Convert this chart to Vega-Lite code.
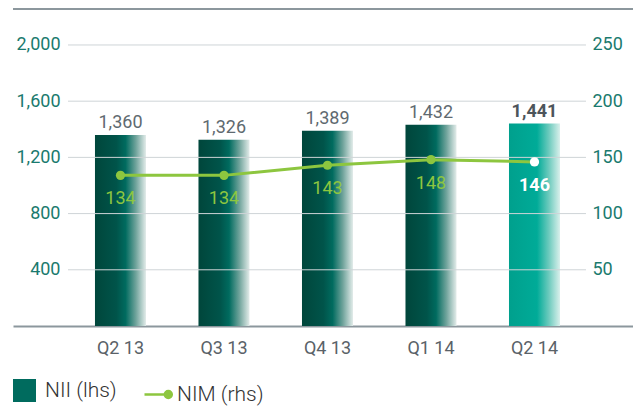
{
  "$schema": "https://vega.github.io/schema/vega-lite/v6.json",
  "width": 620,
  "height": 317,
  "autosize": {"type": "none"},
  "padding": {"left": 13, "top": 9, "right": 0, "bottom": 80},
  "background": "white",
  "config": {
    "view": {"stroke": null},
    "font": "Roboto, sans-serif"
  },
  "datasets": {
    "main": [
      {"q": "Q2 13", "nii": 1360, "nim": 134},
      {"q": "Q3 13", "nii": 1326, "nim": 134},
      {"q": "Q4 13", "nii": 1389, "nim": 143},
      {"q": "Q1 14", "nii": 1432, "nim": 148},
      {"q": "Q2 14", "nii": 1441, "nim": 146}
    ],
    "grid": [{"v": 400}, {"v": 800}, {"v": 1200}, {"v": 1600}, {"v": 2000}],
    "top": [{"v": 2256}]
  },
  "data": {"name": "main"},
  "layer": [
    {
      "layer": [
        {
          "mark": {"type": "bar"},
          "encoding": {
            "x": {
              "field": "q", "type": "nominal", "sort": null,
              "scale": {"domain": ["Q2 13", "Q3 13", "Q4 13", "Q1 14", "Q2 14"], "paddingInner": 0.507, "paddingOuter": 0.7486, "align": 0.529, "round": false},
              "axis": {
                "title": null, "ticks": false, "domain": true, "domainColor": "#8c979d", "domainWidth": 2,
                "labelFontSize": 18, "labelColor": "#5a6268", "labelPadding": 13, "labelAngle": 0
              }
            },
            "y": {
              "field": "nii", "type": "quantitative",
              "scale": {"domain": [0, 2256], "nice": false},
              "axis": {
                "title": null, "values": [400, 800, 1200, 1600, 2000],
                "labelExpr": "format(datum.value, ',')",
                "domain": false, "ticks": false, "grid": false, "labelPadding": -47,
                "labelColor": "#1a7a6e", "labelFontSize": 18
              }
            },
            "fill": {
              "condition": {
                "test": "datum.q === 'Q2 14'",
                "value": {"gradient": "linear", "x1": 0, "y1": 0, "x2": 1, "y2": 0,
                  "stops": [
                    {"offset": 0, "color": "#00a08d"},
                    {"offset": 0.55, "color": "#00ab98"},
                    {"offset": 0.78, "color": "#6ccabd"},
                    {"offset": 1, "color": "#d9f0ec"}
                  ]}
              },
              "value": {"gradient": "linear", "x1": 0, "y1": 0, "x2": 1, "y2": 0,
                "stops": [
                  {"offset": 0, "color": "#00463b"},
                  {"offset": 0.42, "color": "#00544a"},
                  {"offset": 0.6, "color": "#006b5f"},
                  {"offset": 0.8, "color": "#6fa39b"},
                  {"offset": 1, "color": "#e3ecea"}
                ]}
            }
          }
        },
        {
          "data": {"name": "grid"},
          "mark": {"type": "rule", "color": "#cfd4d7", "strokeWidth": 1, "xOffset": -52.5, "x2Offset": 51.5},
          "encoding": {
            "y": {"field": "v", "type": "quantitative"},
            "x": {"datum": "Q2 13", "type": "nominal", "bandPosition": 0.5},
            "x2": {"datum": "Q2 14", "bandPosition": 0.5}
          }
        },
        {
          "data": {"name": "top"},
          "mark": {"type": "rule", "color": "#8c979d", "strokeWidth": 2},
          "encoding": {
            "y": {"field": "v", "type": "quantitative"}
          }
        },
        {
          "transform": [{"filter": "false"}],
          "mark": {"type": "square", "opacity": 1},
          "encoding": {
            "color": {
              "datum": "NII (lhs)",
              "scale": {"domain": ["NII (lhs)"], "range": ["#006b5e"]},
              "legend": {
                "orient": "none", "legendX": 0, "legendY": 370, "direction": "horizontal",
                "title": null, "labelFont": "Roboto", "labelFontSize": 21, "labelFontWeight": 300,
                "labelColor": "#333333", "labelOffset": 9,
                "symbolType": "square", "symbolSize": 529, "symbolOpacity": 1, "symbolStrokeWidth": 0
              }
            }
          }
        },
        {
          "transform": [{"filter": "datum.q !== 'Q2 14'"}],
          "mark": {"type": "text", "baseline": "alphabetic", "dy": -7, "fontSize": 18, "color": "#5f6a70"},
          "encoding": {
            "x": {"field": "q", "type": "nominal", "sort": null},
            "y": {"field": "nii", "type": "quantitative"},
            "text": {"field": "nii", "type": "quantitative", "format": ","}
          }
        },
        {
          "transform": [{"filter": "datum.q === 'Q2 14'"}],
          "mark": {"type": "text", "baseline": "alphabetic", "dy": -7, "fontSize": 18, "fontWeight": "bold", "color": "#4d555b"},
          "encoding": {
            "x": {"field": "q", "type": "nominal", "sort": null},
            "y": {"field": "nii", "type": "quantitative"},
            "text": {"field": "nii", "type": "quantitative", "format": ","}
          }
        }
      ]
    },
    {
      "layer": [
        {
          "mark": {"type": "line", "strokeWidth": 3},
          "encoding": {
            "x": {"field": "q", "type": "nominal", "sort": null},
            "y": {
              "field": "nim", "type": "quantitative",
              "scale": {"domain": [0, 282], "nice": false},
              "axis": {
                "orient": "right", "title": null, "values": [50, 100, 150, 200, 250],
                "domain": false, "ticks": false, "grid": false, "labelPadding": -41,
                "labelColor": "#1a7a6e", "labelFontSize": 18
              }
            },
            "stroke": {
              "datum": "NIM (rhs)",
              "scale": {"domain": ["NIM (rhs)"], "range": ["#8dc63f"]},
              "legend": {
                "orient": "none", "legendX": 130, "legendY": 370, "direction": "horizontal",
                "title": null, "labelFont": "Roboto", "labelFontSize": 21, "labelFontWeight": 300,
                "labelColor": "#333333", "labelOffset": 3,
                "symbolType": "M-1,0H0.45M0.95,0A0.25,0.25 0 1,1 0.45,0A0.25,0.25 0 1,1 0.95,0Z",
                "symbolSize": 784, "symbolStrokeWidth": 2.5, "symbolFillColor": "#8dc63f", "symbolOpacity": 1
              }
            }
          }
        },
        {
          "mark": {"type": "point", "filled": true, "size": 85, "opacity": 1},
          "encoding": {
            "x": {"field": "q", "type": "nominal", "sort": null},
            "y": {"field": "nim", "type": "quantitative"},
            "fill": {"condition": {"test": "datum.q === 'Q2 14'", "value": "#ffffff"}, "value": "#8dc63f"}
          }
        },
        {
          "transform": [{"filter": "datum.q !== 'Q2 14'"}],
          "mark": {"type": "text", "baseline": "alphabetic", "dy": 29, "fontSize": 18, "color": "#8dc63f"},
          "encoding": {
            "x": {"field": "q", "type": "nominal", "sort": null},
            "y": {"field": "nim", "type": "quantitative"},
            "text": {"field": "nim", "type": "quantitative"}
          }
        },
        {
          "transform": [{"filter": "datum.q === 'Q2 14'"}],
          "mark": {"type": "text", "baseline": "alphabetic", "dy": 29, "fontSize": 18, "fontWeight": "bold", "color": "#ffffff"},
          "encoding": {
            "x": {"field": "q", "type": "nominal", "sort": null},
            "y": {"field": "nim", "type": "quantitative"},
            "text": {"field": "nim", "type": "quantitative"}
          }
        }
      ]
    }
  ],
  "resolve": {"scale": {"y": "independent"}}
}
